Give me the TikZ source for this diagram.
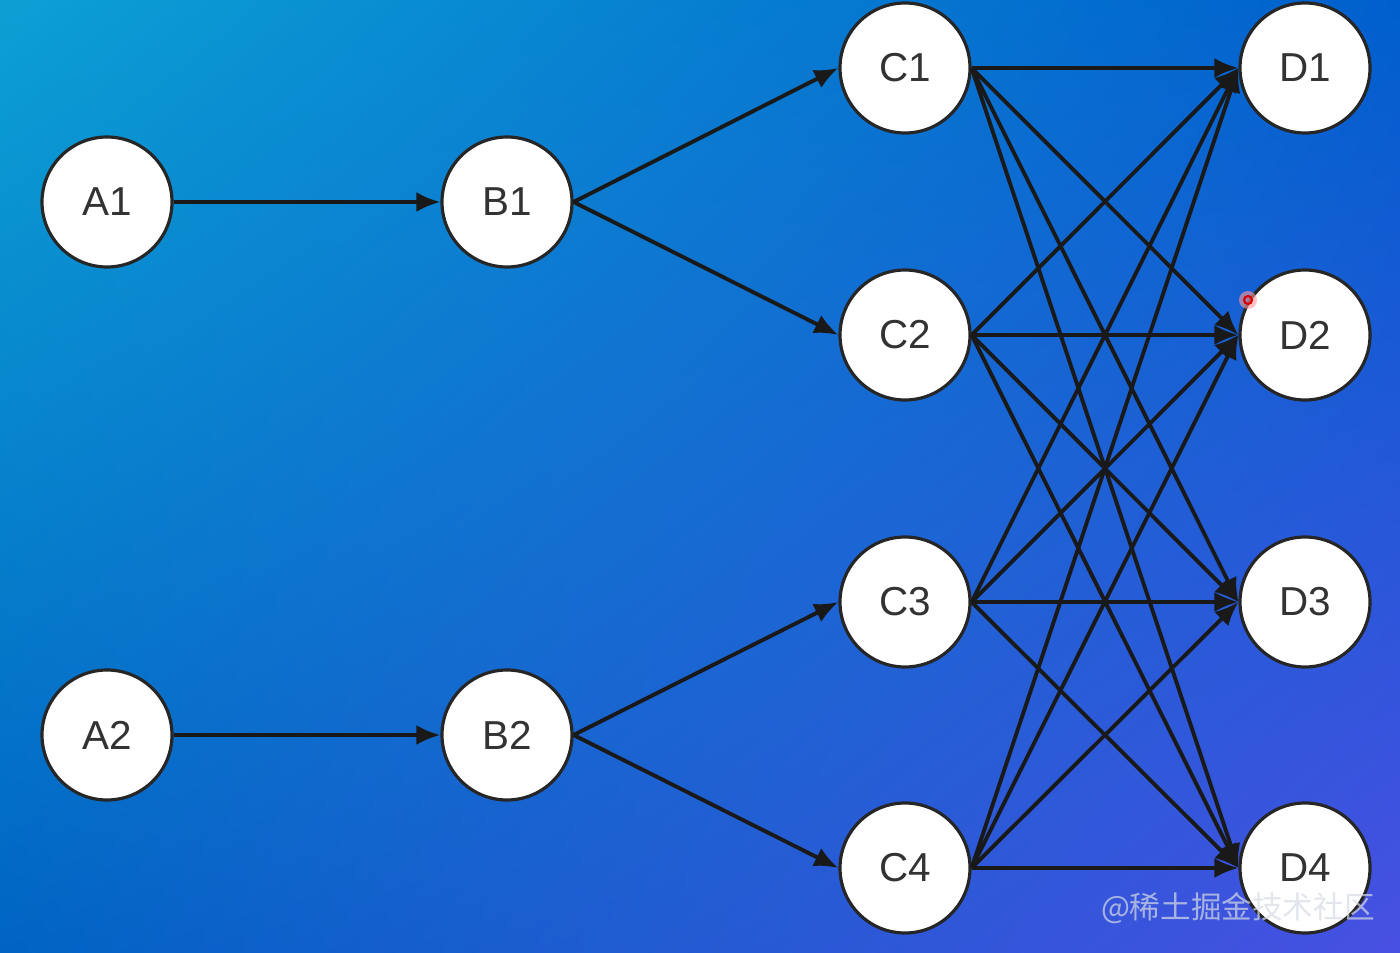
\documentclass[tikz,border=0pt]{standalone}
\usepackage{fontspec}
\setmainfont{Liberation Sans}
\newfontfamily\cjkfont{Noto Sans CJK SC}
\usepackage{tikz}
\usetikzlibrary{arrows.meta, shadings}

\definecolor{bgTL}{RGB}{12,160,212}
\definecolor{bgTR}{RGB}{0,95,205}
\definecolor{bgBL}{RGB}{0,100,196}
\definecolor{bgBR}{RGB}{72,80,226}
\definecolor{markgray}{RGB}{215,220,228}

\begin{document}
\begin{tikzpicture}[
        neuron/.style = {circle, draw = black!85, fill = white, line width = 0.9pt,
                         minimum size = 1.3cm, inner sep = 0pt, text = black!80,
                         font = \fontsize{11.5}{14}\selectfont},
        link/.style = {line width = 1.1pt, draw = black!90,
                       -{Latex[length=2.4mm,width=2mm]}}
    ]
        % Background
        \useasboundingbox (0,0) rectangle (14,9.52);
        \shade[upper left = bgTL, upper right = bgTR,
               lower left = bgBL, lower right = bgBR]
              (0,0) rectangle (14,9.52);

        % Layer A
        \node[neuron] (A1) at (1.07,7.50) {A1};
        \node[neuron] (A2) at (1.07,2.17) {A2};

        % Layer B
        \node[neuron] (B1) at (5.07,7.50) {B1};
        \node[neuron] (B2) at (5.07,2.17) {B2};

        % Layer C
        \node[neuron] (C1) at (9.05,8.84) {C1};
        \node[neuron] (C2) at (9.05,6.17) {C2};
        \node[neuron] (C3) at (9.05,3.50) {C3};
        \node[neuron] (C4) at (9.05,0.84) {C4};

        % Layer D
        \node[neuron] (D1) at (13.05,8.84) {D1};
        \node[neuron] (D2) at (13.05,6.17) {D2};
        \node[neuron] (D3) at (13.05,3.50) {D3};
        \node[neuron] (D4) at (13.05,0.84) {D4};

        % A -> B
        \draw[link] (A1.east) -- (B1.west);
        \draw[link] (A2.east) -- (B2.west);

        % B -> C
        \draw[link] (B1.east) -- (C1.west);
        \draw[link] (B1.east) -- (C2.west);
        \draw[link] (B2.east) -- (C3.west);
        \draw[link] (B2.east) -- (C4.west);

        % C -> D, fully connected
        \draw[link] (C1.east) -- (D1.west);
        \draw[link] (C1.east) -- (D2.west);
        \draw[link] (C1.east) -- (D3.west);
        \draw[link] (C1.east) -- (D4.west);
        \draw[link] (C2.east) -- (D1.west);
        \draw[link] (C2.east) -- (D2.west);
        \draw[link] (C2.east) -- (D3.west);
        \draw[link] (C2.east) -- (D4.west);
        \draw[link] (C3.east) -- (D1.west);
        \draw[link] (C3.east) -- (D2.west);
        \draw[link] (C3.east) -- (D3.west);
        \draw[link] (C3.east) -- (D4.west);
        \draw[link] (C4.east) -- (D1.west);
        \draw[link] (C4.east) -- (D2.west);
        \draw[link] (C4.east) -- (D3.west);
        \draw[link] (C4.east) -- (D4.west);

        % Pointer mark
        \fill[red!40, opacity = 0.6] (12.48,6.52) circle (0.09cm);
        \draw[red!85!black, line width = 0.6pt] (12.48,6.52) circle (0.04cm);

        % Watermark
        \node[text = markgray, opacity = 0.7, anchor = east,
              font = \cjkfont\fontsize{8.7}{10}\selectfont] (mark) at (13.87,0.44)
              {@稀土掘金技术社区};
    \end{tikzpicture}
\end{document}
